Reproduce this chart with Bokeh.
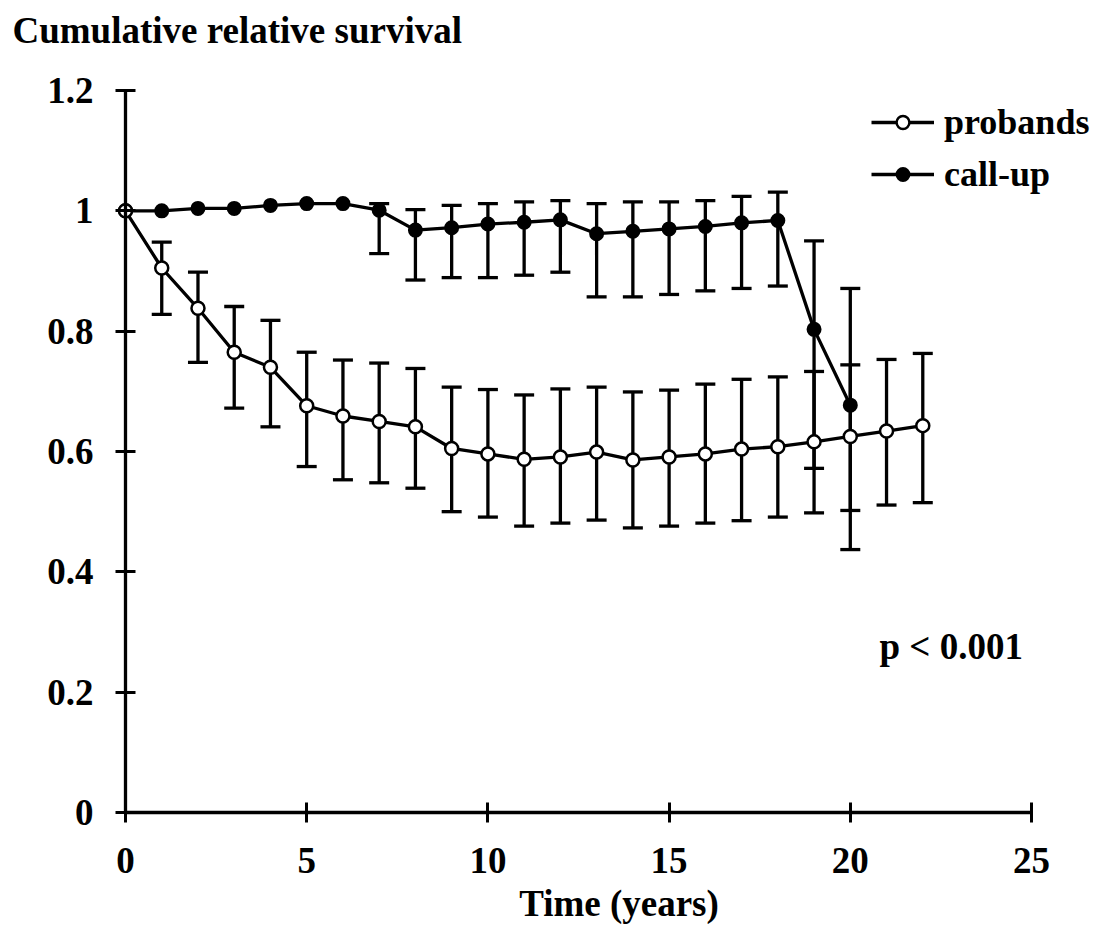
from bokeh.plotting import figure
from bokeh.models import (Range1d, FixedTicker, ColumnDataSource, Whisker, TeeHead,
                          Legend, LegendItem, Label)
from bokeh.embed import file_html
from bokeh.resources import INLINE

# ---------------- data ----------------
years_p = list(range(0, 23))
probands = [1.000, 0.905, 0.838, 0.765, 0.740, 0.676, 0.659, 0.650, 0.641, 0.605,
            0.596, 0.587, 0.591, 0.599, 0.586, 0.591, 0.596, 0.604, 0.608, 0.616,
            0.625, 0.634, 0.643]
err_years_p = list(range(1, 23))
probands_upper = [0.948, 0.898, 0.841, 0.818, 0.765, 0.752, 0.747, 0.738, 0.707, 0.703,
                  0.694, 0.704, 0.707, 0.699, 0.702, 0.712, 0.720, 0.724, 0.733, 0.744,
                  0.753, 0.763]
probands_lower = [0.828, 0.748, 0.672, 0.641, 0.575, 0.553, 0.548, 0.539, 0.500, 0.491,
                  0.476, 0.481, 0.486, 0.473, 0.476, 0.481, 0.485, 0.491, 0.498, 0.502,
                  0.511, 0.515]

years_c = list(range(0, 21))
callup = [1.000, 1.000, 1.004, 1.004, 1.009, 1.012, 1.012, 1.001, 0.968, 0.972,
          0.978, 0.981, 0.985, 0.962, 0.966, 0.970, 0.974, 0.980, 0.984, 0.803, 0.677]
err_years_c = list(range(7, 21))
callup_upper = [1.012, 1.002, 1.009, 1.012, 1.015, 1.017, 1.012, 1.015, 1.015, 1.017,
                1.024, 1.031, 0.950, 0.871]
callup_lower = [0.929, 0.885, 0.889, 0.889, 0.893, 0.898, 0.857, 0.857, 0.861, 0.867,
                0.871, 0.875, 0.572, 0.437]

x_ticks = [0, 5, 10, 15, 20, 25]
y_ticks = [0, 0.2, 0.4, 0.6, 0.8, 1.0, 1.2]
y_tick_labels = ["0", "0.2", "0.4", "0.6", "0.8", "1", "1.2"]

series_names = ["probands", "call-up"]
y_title = "Cumulative relative survival"
x_title = "Time (years)"
p_text = "p < 0.001"

# ---------------- style / geometry ----------------
FONT = "Liberation Serif"
FS = "37px"
LW = 3.3

W, H = 1093, 924
X0_PX, Y0_PX = 125, 812          # pixel position of the data origin
PX_PER_YEAR = 36.24
PX_PER_UNIT = 722 / 1.2

x_range = Range1d(-X0_PX / PX_PER_YEAR, (W - X0_PX) / PX_PER_YEAR)
y_range = Range1d(-(H - Y0_PX) / PX_PER_UNIT, Y0_PX / PX_PER_UNIT)

p = figure(width=W, height=H, x_range=x_range, y_range=y_range,
           output_backend="svg", toolbar_location=None,
           min_border=0, min_border_left=0, min_border_right=0,
           min_border_top=0, min_border_bottom=0)
p.outline_line_color = None
p.grid.visible = False
p.background_fill_color = "white"
p.border_fill_color = "white"

for ax in (p.xaxis[0], p.yaxis[0]):
    ax.fixed_location = 0
    ax.axis_line_width = LW
    ax.axis_line_color = "black"
    ax.major_tick_line_width = 3
    ax.major_tick_line_color = "black"
    ax.major_tick_in = 10
    ax.major_tick_out = 10
    ax.minor_tick_line_color = None
    ax.major_label_text_font = FONT
    ax.major_label_text_font_style = "bold"
    ax.major_label_text_font_size = FS
    ax.major_label_text_color = "black"

p.xaxis[0].ticker = FixedTicker(ticks=x_ticks)
p.xaxis[0].bounds = (x_ticks[0], x_ticks[-1])
p.xaxis[0].major_label_standoff = 25
p.yaxis[0].ticker = FixedTicker(ticks=y_ticks)
p.yaxis[0].bounds = (y_ticks[0], y_ticks[-1])
p.yaxis[0].major_label_overrides = {t: s for t, s in zip(y_ticks, y_tick_labels)}
p.yaxis[0].major_label_standoff = 22

# error bars
src_pe = ColumnDataSource(dict(x=err_years_p, upper=probands_upper, lower=probands_lower))
src_ce = ColumnDataSource(dict(x=err_years_c, upper=callup_upper, lower=callup_lower))
for src in (src_pe, src_ce):
    w = Whisker(base="x", upper="upper", lower="lower", source=src,
                line_width=LW, line_color="black",
                upper_head=TeeHead(size=20, line_width=LW, line_color="black"),
                lower_head=TeeHead(size=20, line_width=LW, line_color="black"))
    p.add_layout(w)

# lines and markers
lc = p.line(years_c, callup, line_width=LW, line_color="black")
lp = p.line(years_p, probands, line_width=LW, line_color="black")
sc = p.scatter(years_c, callup, size=13, marker="circle", fill_color="black",
               line_color="black", line_width=2)
sp = p.scatter(years_p, probands, size=13, marker="circle", fill_color="white",
               line_color="black", line_width=2.5)

legend = Legend(items=[LegendItem(label=series_names[0], renderers=[lp, sp]),
                       LegendItem(label=series_names[1], renderers=[lc, sc])],
                location=(871, 729), glyph_width=63, glyph_height=32,
                label_standoff=10, spacing=10, padding=0, margin=0,
                border_line_color=None, background_fill_alpha=0,
                label_text_font=FONT, label_text_font_style="bold",
                label_text_font_size="36px", label_text_color="black")
p.add_layout(legend)


def dx(px):
    return (px - X0_PX) / PX_PER_YEAR


def dy(py):
    return (Y0_PX - py) / PX_PER_UNIT


# (text, x pixel, vertical-centre pixel, alignment)
for txt, px, py, align in [(y_title, 12, 29.5, "left"),
                           (x_title, 618.5, 903, "center"),
                           (p_text, 879, 645.5, "left")]:
    p.add_layout(Label(x=dx(px), y=dy(py), text=txt, text_align=align,
                       text_baseline="alphabetic", text_font=FONT,
                       text_font_style="bold", text_font_size=FS,
                       text_color="black"))

open("out.html", "w").write(file_html(p, INLINE))
